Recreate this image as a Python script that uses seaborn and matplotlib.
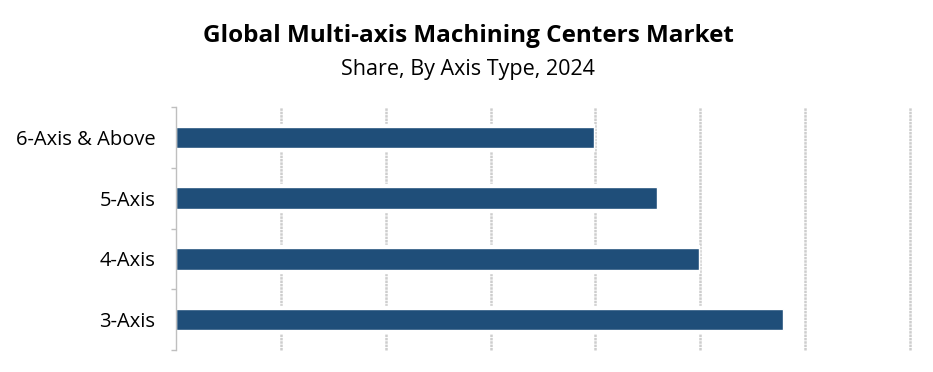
import matplotlib
matplotlib.use("Agg")
import matplotlib.pyplot as plt
import seaborn as sns
import pandas as pd

categories = ["6-Axis & Above", "5-Axis", "4-Axis", "3-Axis"]
shares = [3.99, 4.59, 4.99, 5.79]
grid_positions = [1, 2, 3, 4, 5, 6, 7]
title = "Global Multi-axis Machining Centers Market"
subtitle = "Share, By Axis Type, 2024"

sns.set_theme(style="white")
plt.rcParams['font.family'] = ['Open Sans', 'DejaVu Sans']

df = pd.DataFrame({"axis": categories, "share": shares})

W, H = 933, 372
fig = plt.figure(figsize=(W / 100, H / 100), dpi=100)
ax = fig.add_axes([176 / W, 1 - 350 / H, (910 - 176) / W, (350 - 107) / H])

for gx in grid_positions:
    ax.axvline(gx, color="#cdcdcd", lw=1.8, ls=(0, (1, 0.35)), zorder=0,
               clip_on=False)

sns.barplot(data=df, y="axis", x="share", color="white", width=0.45,
            saturation=1, ax=ax, zorder=1)
sns.barplot(data=df, y="axis", x="share", color="#1f4e79", width=0.35,
            saturation=1, ax=ax, zorder=2)

ax.set_xlim(0, 7)
ax.set_ylim(3.5, -0.5)
ax.set_xlabel("")
ax.set_ylabel("")
ax.set_xticks([])
for s in ["top", "right", "bottom"]:
    ax.spines[s].set_visible(False)
ax.spines["left"].set_color("#bfbfbf")
ax.spines["left"].set_linewidth(1.0)
ax.set_yticks([-0.5, 0.5, 1.5, 2.5, 3.5], minor=True)
ax.tick_params(axis="y", which="minor", length=3.6, width=1.0, color="#bfbfbf", left=True)
ax.tick_params(axis="y", which="major", length=0, pad=15, labelsize=14.5, labelcolor="#000000")

fig.text(468 / W, 1 - 36 / H, title, ha="center", va="center",
         fontsize=17.5, fontweight="bold", color="#000000")
fig.text(468 / W, 1 - 69 / H, subtitle, ha="center", va="center",
         fontsize=15.5, color="#000000")

fig.savefig("out.png", dpi=100)
